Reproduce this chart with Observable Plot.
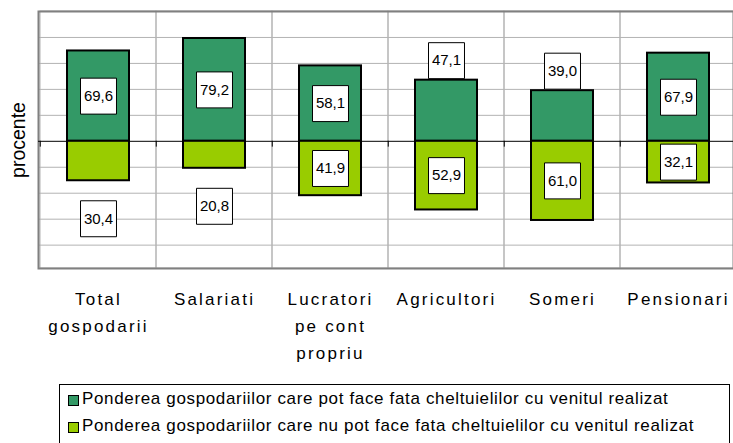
<!DOCTYPE html>
<html>
<head>
<meta charset="utf-8">
<script src="https://cdn.jsdelivr.net/npm/d3@7"></script>
<script src="https://cdn.jsdelivr.net/npm/@observablehq/plot@0.6"></script>
<style>
  html, body { margin: 0; padding: 0; background: #fff; overflow: hidden; }
  #chart svg { display: block; }
  .chart g[aria-label="x-axis tick label"] text { letter-spacing: 2.2px; }
  .legend {
    margin-left: 59px; margin-top: 6px; width: 661px;
    border: 1px solid #000; padding: 0 0 8px 8px; box-sizing: content-box;
    font-family: "Liberation Sans", Arial, sans-serif; font-size: 17px;
    line-height: 27px; letter-spacing: 0.65px; color: #000; white-space: nowrap;
  }
  .legend .sw {
    display: inline-block; width: 9px; height: 9px; border: 1.5px solid #000;
    margin-right: 3px; vertical-align: -2px;
  }
</style>
</head>
<body>
<div id="chart"></div>
<script>
const categories = ["Total\ngospodarii", "Salariati", "Lucratori\npe cont\npropriu", "Agricultori", "Someri", "Pensionari"];
const canCover = [69.6, 79.2, 58.1, 47.1, 39.0, 67.9];
const cannotCover = [30.4, 20.8, 41.9, 52.9, 61.0, 32.1];
const canLabelPlace = ["inside", "inside", "inside", "above", "above", "inside"];
const cannotLabelPlace = ["below", "below", "inside", "inside", "inside", "inside"];
const seriesNames = [
  "Ponderea gospodariilor care pot face fata cheltuielilor cu venitul realizat",
  "Ponderea gospodariilor care nu pot face fata cheltuielilor cu venitul realizat"
];
const seriesColors = ["#339966", "#99cc00"];
const gridTicks = [-80, -60, -40, -20, 20, 40, 60, 80];
const yDomain = [-98, 100];

const fmt = v => d3.format(".1f")(v).replace(".", ",");

const rows = categories.map((c, i) => ({category: c, can: canCover[i], cannot: cannotCover[i]}));
const labels = [];
categories.forEach((c, i) => {
  const p = canLabelPlace[i];
  labels.push({category: c, place: p, text: fmt(canCover[i]), y: p === "inside" ? canCover[i] / 2 : canCover[i]});
  const q = cannotLabelPlace[i];
  labels.push({category: c, place: q, text: fmt(cannotCover[i]), y: q === "inside" ? -cannotCover[i] / 2 : -cannotCover[i]});
});

function labelMarks(place, dy) {
  const data = labels.filter(d => d.place === place);
  return [
    Plot.dot(data, {x: "category", y: "y", dy, symbol: "square", r: 20.3, fill: "white", stroke: "black", strokeWidth: 1}),
    Plot.text(data, {x: "category", y: "y", dy, text: "text", fontSize: 15, fill: "black"})
  ];
}

const xRange = [38, 737];
const halfBand = (xRange[1] - xRange[0]) / categories.length / 2;

const chart = Plot.plot({
  className: "chart",
  width: 733,
  height: 378,
  marginTop: 11,
  marginBottom: 110,
  marginLeft: 38,
  marginRight: 0,
  style: {fontFamily: "'Liberation Sans', Arial, sans-serif", background: "white", color: "black"},
  x: {domain: categories, range: xRange, padding: 0},
  y: {domain: yDomain, axis: null},
  marks: [
    Plot.gridY(gridTicks, {stroke: "#b3b3b3", strokeOpacity: 1}),
    Plot.barY(categories, {x: d => d, y1: yDomain[0], y2: yDomain[1], fill: "none", stroke: "#b3b3b3"}),
    Plot.frame({stroke: "#808080", strokeWidth: 2}),
    Plot.ruleY([0], {stroke: "black"}),
    Plot.ruleX(categories, {x: d => d, y1: 0, y2: -4.5, dx: -halfBand, stroke: "black"}),
    Plot.barY(rows, {x: "category", y: "can", fill: seriesColors[0], stroke: "black", strokeWidth: 2, insetLeft: 27, insetRight: 27}),
    Plot.barY(rows, {x: "category", y: d => -d.cannot, fill: seriesColors[1], stroke: "black", strokeWidth: 2, insetLeft: 27, insetRight: 27}),
    Plot.axisX({tickSize: 0, tickPadding: 18, fontSize: 17, lineHeight: 1.57, label: null, fill: "black"}),
    Plot.text(["procente"], {frameAnchor: "left", textAnchor: "middle", rotate: -90, dx: -20, fontSize: 19.5, fill: "black"}),
    ...labelMarks("inside", 0),
    ...labelMarks("above", -19.5),
    ...labelMarks("below", 38)
  ]
});
document.getElementById("chart").append(chart);

const legend = document.createElement("div");
legend.className = "legend";
seriesNames.forEach((name, i) => {
  const line = document.createElement("div");
  const sw = document.createElement("span");
  sw.className = "sw";
  sw.style.background = seriesColors[i];
  line.append(sw, document.createTextNode(name));
  legend.append(line);
});
document.getElementById("chart").append(legend);
</script>
</body>
</html>
